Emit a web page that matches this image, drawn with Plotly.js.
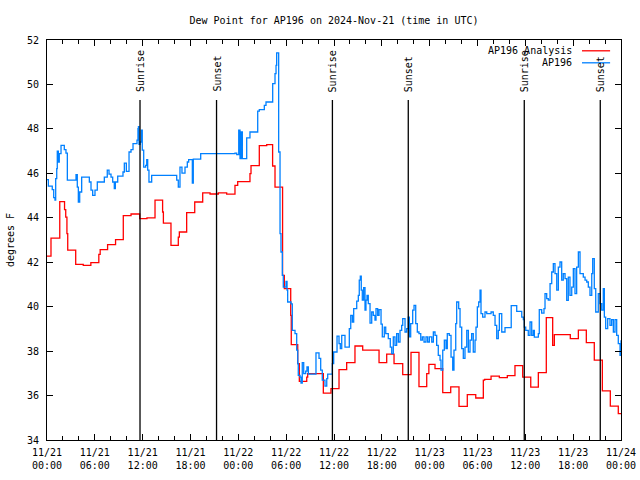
<!DOCTYPE html>
<html>
<head>
<meta charset="utf-8">
<script src="https://cdn.plot.ly/plotly-3.0.1.min.js"></script>
<style>html,body{margin:0;padding:0;background:#fff;}#chart{width:640px;height:480px;}</style>
</head>
<body>
<div id="chart"></div>
<script>
// Hours since 2024-11-21 00:00 UTC
const analysisHours = [0, 0.5, 1.6, 2.2, 2.35, 2.5, 2.6, 3.6, 4.55, 5.5, 6.5, 6.67, 7.6, 8.6, 9.57, 10.54, 11.63, 12.54, 13.55, 14.5, 14.6, 15.55, 16.47, 16.6, 17.52, 18.53, 19.53, 20.45, 21.49, 22.54, 23.58, 23.92, 25.46, 25.59, 26.63, 27.56, 28.3, 28.6, 29.55, 29.77, 30.57, 30.64, 31.45, 31.65, 32.58, 32.7, 34.66, 35.62, 36.63, 37.59, 38.63, 39.6, 41.65, 42.61, 43.53, 44.62, 45.66, 46.66, 47.63, 47.9, 48.67, 49.64, 50.64, 51.68, 52.72, 53.78, 54.73, 54.9, 55.7, 56.74, 57.74, 58.7, 59.67, 60.68, 61.63, 62.63, 63.43, 63.64, 65.64, 66.65, 67.65, 68.65, 69.66, 70.66, 71.66, 72];
const analysisDewPoint = [42.27, 43.08, 44.73, 44.37, 44.03, 43.29, 42.54, 41.9, 41.86, 41.98, 42.35, 42.57, 42.79, 43.02, 44.1, 44.17, 43.96, 44.0, 44.79, 44.26, 43.76, 42.76, 43.13, 43.36, 44.23, 44.71, 45.12, 45.07, 45.12, 45.06, 45.46, 45.63, 45.99, 46.35, 47.25, 47.29, 46.33, 45.38, 41.41, 40.81, 39.61, 38.29, 37.44, 36.64, 36.83, 36.99, 36.11, 36.31, 37.17, 37.48, 38.23, 38.04, 37.48, 37.86, 37.44, 36.94, 37.94, 36.4, 36.99, 37.4, 37.21, 36.13, 36.39, 35.51, 36.04, 35.89, 36.69, 36.73, 36.87, 36.81, 36.9, 37.35, 36.83, 36.38, 37.03, 39.51, 38.26, 38.74, 38.56, 38.94, 38.38, 37.59, 36.21, 35.52, 35.19, 35.19];

const obsHours = [0, 0.17, 0.66, 0.84, 1.0, 1.09, 1.22, 1.29, 1.42, 1.54, 1.76, 2.17, 2.38, 2.55, 3.64, 3.8, 3.93, 4.1, 4.35, 5.31, 5.52, 5.73, 6.02, 6.31, 7.19, 7.56, 7.78, 8.03, 8.24, 8.44, 8.57, 8.87, 9.53, 9.7, 9.95, 10.29, 10.54, 10.79, 11.29, 11.41, 11.47, 11.54, 11.67, 11.83, 11.95, 12.13, 12.38, 12.51, 12.63, 12.79, 13.13, 16.27, 16.47, 16.68, 16.93, 17.31, 17.6, 17.77, 18.23, 18.35, 19.28, 23.58, 23.8, 24.05, 24.21, 24.34, 24.5, 25.05, 25.46, 26.43, 26.63, 27.26, 27.47, 28.31, 28.6, 28.73, 28.81, 29.06, 29.23, 29.35, 29.52, 29.64, 29.98, 30.11, 30.19, 30.61, 30.77, 31.11, 31.32, 31.45, 31.52, 31.74, 31.86, 32.02, 32.2, 32.45, 32.61, 32.78, 33.74, 34.12, 34.33, 34.53, 34.87, 35.09, 35.21, 35.79, 35.96, 36.38, 36.63, 36.79, 36.97, 37.38, 37.92, 38.1, 38.3, 38.47, 38.85, 39.05, 39.17, 39.3, 39.42, 39.55, 39.72, 39.89, 40.01, 40.14, 40.3, 40.52, 40.73, 40.93, 41.14, 41.27, 41.48, 41.65, 41.9, 42.06, 42.31, 42.49, 42.81, 43.06, 43.24, 43.44, 43.65, 43.86, 44.07, 44.28, 44.49, 44.62, 44.91, 45.12, 45.32, 45.45, 45.62, 45.87, 46.04, 46.25, 46.45, 46.66, 46.88, 47.08, 47.29, 47.54, 47.75, 47.96, 48.26, 48.46, 48.67, 48.88, 49.08, 49.3, 49.42, 49.64, 49.84, 50.05, 50.21, 50.46, 50.68, 50.89, 51.05, 51.27, 51.39, 51.64, 51.81, 52.02, 52.22, 52.43, 52.65, 52.85, 53.06, 53.27, 53.47, 53.69, 53.81, 53.98, 54.15, 54.32, 54.44, 54.65, 54.94, 55.16, 55.7, 55.98, 56.2, 56.41, 56.61, 56.74, 57.04, 57.45, 58.23, 58.92, 59.55, 59.75, 59.87, 60.05, 60.37, 60.59, 60.8, 61.0, 61.13, 61.63, 61.75, 62.05, 62.34, 62.47, 62.68, 62.88, 63.1, 63.31, 63.51, 63.72, 63.94, 64.14, 64.35, 64.56, 64.76, 64.98, 65.19, 65.39, 65.6, 65.82, 66.02, 66.23, 66.44, 66.65, 66.86, 67.27, 67.49, 67.7, 67.9, 68.11, 68.33, 68.45, 68.65, 68.83, 69.15, 69.37, 69.58, 69.78, 69.91, 70.08, 70.33, 70.62, 70.83, 71.04, 71.25, 71.46, 71.66, 71.88, 72.0];
const obsDewPoint = [45.72, 45.42, 45.27, 44.91, 44.79, 45.76, 46.21, 47.0, 46.51, 46.89, 47.26, 47.07, 46.91, 45.69, 45.94, 45.38, 44.71, 45.16, 45.83, 45.61, 45.24, 45.01, 45.24, 45.61, 45.83, 46.14, 45.96, 45.83, 45.61, 45.31, 45.61, 45.87, 46.06, 46.46, 46.09, 46.96, 47.07, 47.34, 47.49, 48.01, 48.1, 47.3, 47.41, 47.94, 47.04, 46.28, 46.36, 46.62, 46.14, 45.61, 45.91, 45.69, 45.38, 46.28, 46.01, 46.28, 46.51, 46.62, 45.56, 46.64, 46.89, 46.91, 46.84, 47.94, 46.66, 47.86, 46.66, 47.6, 47.86, 48.8, 48.87, 49.06, 49.21, 50.04, 50.49, 50.86, 51.42, 46.96, 43.29, 42.46, 41.41, 40.88, 41.14, 40.74, 40.21, 40.13, 38.93, 38.79, 38.04, 37.44, 36.91, 36.83, 36.56, 37.48, 36.99, 37.1, 37.29, 36.96, 37.92, 37.67, 37.14, 36.69, 36.42, 36.76, 36.96, 37.44, 37.96, 38.67, 38.34, 38.11, 38.71, 38.18, 39.01, 39.61, 39.31, 39.91, 40.25, 40.51, 41.19, 41.37, 40.74, 40.29, 40.86, 39.84, 40.29, 40.51, 40.14, 39.26, 39.76, 39.61, 39.39, 39.91, 39.61, 39.87, 39.21, 38.64, 39.08, 38.79, 38.56, 38.18, 37.89, 38.64, 38.26, 38.79, 38.41, 38.93, 39.16, 39.46, 38.86, 39.01, 39.53, 38.64, 39.24, 39.84, 40.06, 39.24, 38.86, 38.79, 38.49, 38.64, 38.41, 38.64, 38.41, 38.64, 38.41, 38.86, 38.71, 38.26, 37.81, 37.59, 37.14, 38.04, 38.49, 38.11, 38.79, 38.71, 37.73, 37.14, 38.04, 39.24, 40.21, 39.91, 39.08, 38.11, 37.67, 38.18, 38.93, 37.96, 38.49, 38.79, 37.96, 38.49, 39.08, 39.99, 40.21, 40.74, 39.69, 39.53, 39.76, 39.69, 39.76, 39.61, 39.16, 38.56, 38.93, 39.69, 38.86, 39.06, 40.05, 39.79, 39.53, 39.42, 39.08, 38.93, 38.71, 39.31, 38.71, 38.93, 38.63, 38.79, 39.87, 39.71, 39.91, 40.59, 40.36, 40.29, 41.04, 41.56, 41.94, 41.49, 40.74, 41.78, 42.01, 41.19, 41.49, 41.26, 40.28, 41.33, 40.51, 40.88, 41.71, 40.59, 41.78, 42.46, 41.49, 41.33, 41.19, 41.11, 40.88, 40.51, 41.49, 42.16, 40.81, 39.76, 40.59, 40.14, 39.84, 40.81, 39.53, 39.01, 39.46, 39.16, 39.42, 38.86, 39.42, 38.71, 38.34, 37.81, 38.49];

const sunEventTimes = ["2024-11-21 11:40", "2024-11-21 21:16", "2024-11-22 11:48", "2024-11-22 21:19", "2024-11-23 11:52", "2024-11-23 21:24"];
const sunEventLabels = ["Sunrise", "Sunset", "Sunrise", "Sunset", "Sunrise", "Sunset"];

const seriesNames = ["AP196 Analysis", "AP196"];
const seriesColors = ["#ff0000", "#0080ff"];

const base = Date.UTC(2024, 10, 21, 0, 0, 0);
function toTime(h) {
  return new Date(base + Math.round(h * 3600000)).toISOString().slice(0, 19).replace('T', ' ');
}

const FONT = "DejaVu Sans Mono, Liberation Mono, monospace";

const traces = [
  {x: analysisHours.map(toTime), y: analysisDewPoint, type: 'scatter', mode: 'lines',
   line: {color: seriesColors[0], width: 1.3, shape: 'hv'}, name: seriesNames[0], showlegend: false},
  {x: obsHours.map(toTime), y: obsDewPoint, type: 'scatter', mode: 'lines',
   line: {color: seriesColors[1], width: 1.3, shape: 'hv'}, name: seriesNames[1], showlegend: false}
];

const shapes = [];
const annotations = [];
sunEventTimes.forEach((t, i) => {
  shapes.push({type: 'line', xref: 'x', yref: 'paper', x0: t, x1: t, y0: 0, y1: 0.85,
    line: {color: '#000', width: 1.3}});
  annotations.push({x: t, xref: 'x', yref: 'paper', y: 0.865, yanchor: 'bottom', xanchor: 'center',
    text: sunEventLabels[i], textangle: -90, showarrow: false, font: {family: FONT, size: 10, color: '#000'}});
});
// legend (gnuplot style: text left of the sample)
seriesNames.forEach((n, i) => {
  const yy = 0.973 - i * 0.03;
  annotations.push({xref: 'paper', yref: 'paper', x: 0.918, y: yy, xanchor: 'right', yanchor: 'middle',
    text: n, showarrow: false, font: {family: FONT, size: 10, color: '#000'}});
  shapes.push({type: 'line', xref: 'paper', yref: 'paper', x0: 0.932, x1: 0.981, y0: yy, y1: yy,
    line: {color: seriesColors[i], width: 1.3}});
});

const layout = {
  width: 640, height: 480,
  margin: {l: 47, r: 19, t: 40, b: 40},
  paper_bgcolor: '#fff', plot_bgcolor: '#fff',
  font: {family: FONT, size: 10, color: '#000'},
  title: {text: 'Dew Point for AP196 on 2024-Nov-21 (time in UTC)', x: 0.5, xref: 'paper',
          y: 1 - 20/480, yref: 'container', yanchor: 'middle', font: {family: FONT, size: 10}},
  xaxis: {type: 'date', range: ['2024-11-21 00:00', '2024-11-24 00:00'],
          dtick: 6*3600000, tick0: '2024-11-21 00:00', tickformat: '%m/%d<br>%H:%M',
          ticks: 'inside', ticklen: 6, tickcolor: '#000', mirror: 'allticks', showline: true,
          linecolor: '#000', linewidth: 1, showgrid: false, zeroline: false,
          tickfont: {family: FONT, size: 10}, ticklabelstandoff: 3,
          minor: {dtick: 2*3600000, ticks: 'inside', ticklen: 4, tickcolor: '#000', showgrid: false}},
  yaxis: {range: [34, 52], dtick: 2, ticks: 'inside', ticklen: 6, tickcolor: '#000',
          mirror: 'allticks', showline: true, linecolor: '#000', linewidth: 1,
          showgrid: false, zeroline: false, tickfont: {family: FONT, size: 10}, ticklabelstandoff: 5,
          title: {text: 'degrees F', font: {family: FONT, size: 10}, standoff: 10}},
  shapes: shapes,
  annotations: annotations
};

Plotly.newPlot('chart', traces, layout, {staticPlot: true, displayModeBar: false});
</script>
</body>
</html>
